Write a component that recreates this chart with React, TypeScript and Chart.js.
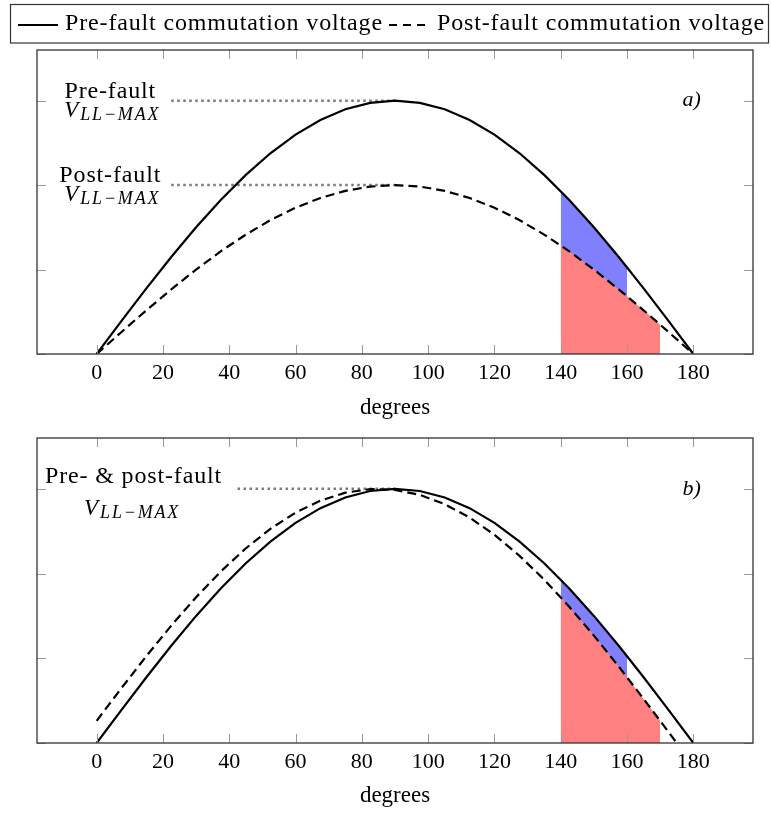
import React, { useEffect, useRef } from 'react';
import { Chart, registerables } from 'chart.js';

Chart.register(...registerables);

// ---------- data ----------
const seriesNames = ['Pre-fault commutation voltage', 'Post-fault commutation voltage'];
const xAxisTitle = 'degrees';
const xTickValues = [0, 20, 40, 60, 80, 100, 120, 140, 160, 180];
const yTickValues = [0, 0.3333, 0.6667, 1];
const xRange = [-18, 198];
const yRange = [0, 1.2];

const sampleDegrees = [0, 7.5, 15, 22.5, 30, 37.5, 45, 52.5, 60, 67.5, 75, 82.5, 90, 97.5, 105, 112.5, 120, 127.5, 135, 142.5, 150, 157.5, 165, 172.5, 180];
const preFault = [0, 0.1305, 0.2588, 0.3827, 0.5, 0.6088, 0.7071, 0.7934, 0.866, 0.9239, 0.9659, 0.9914, 1, 0.9914, 0.9659, 0.9239, 0.866, 0.7934, 0.7071, 0.6088, 0.5, 0.3827, 0.2588, 0.1305, 0];
const postFaultA = [0, 0.087, 0.1725, 0.2551, 0.3333, 0.4059, 0.4714, 0.5289, 0.5774, 0.6159, 0.644, 0.6609, 0.6667, 0.6609, 0.644, 0.6159, 0.5774, 0.5289, 0.4714, 0.4059, 0.3333, 0.2551, 0.1725, 0.087, 0];
const postFaultBDegrees = [0, 7.5, 15, 22.5, 30, 37.5, 45, 52.5, 60, 67.5, 75, 82.5, 90, 97.5, 105, 112.5, 120, 127.5, 135, 142.5, 150, 157.5, 165, 172.5, 175];
const postFaultB = [0.0872, 0.2164, 0.342, 0.4617, 0.5736, 0.6756, 0.766, 0.8434, 0.9063, 0.9537, 0.9848, 0.999, 0.9962, 0.9763, 0.9397, 0.887, 0.8192, 0.7373, 0.6428, 0.5373, 0.4226, 0.3007, 0.1736, 0.0436, 0];

const redDegrees = [140, 145, 150, 155, 160, 165, 170];
const redA = [0.4285, 0.3824, 0.3333, 0.2817, 0.228, 0.1725, 0.1158];
const redB = [0.5736, 0.5, 0.4226, 0.342, 0.2588, 0.1736, 0.0872];
const blueDegrees = [140, 145, 150, 155, 160];
const blueTop = [0.6428, 0.5736, 0.5, 0.4226, 0.342];

const noteEnd = 90;
const notesA = [
  { title: 'Pre-fault', y: 1, from: 22.5 },
  { title: 'Post-fault', y: 0.6667, from: 22.5 },
];
const notesB = [{ title: 'Pre- & post-fault', y: 1, from: 42.5 }];
const vllMain = 'V';
const vllSub = 'LL\u2212MAX';
const tagA = 'a)';
const tagB = 'b)';
const tagX = 179.5;

// ---------- styling ----------
const FONT = '"Liberation Serif", "Times New Roman", serif';
const TEXT = '#000';
const BODY_FONT = `24px ${FONT}`;
const BODY_SPACING = '0.85px';
const W = 771;

function lineData(xs: number[], ys: number[]) {
  return xs.map((x, i) => ({ x, y: ys[i] }));
}

type Note = { title: string; y: number; from: number };
type Panel = {
  post: { x: number; y: number }[];
  red: { x: number; y: number }[];
  notes: Note[];
  tag: string;
  padTop: number;
  axisHeight: number;
  height: number;
  top: number;
  legend: boolean;
  textLayout: { titleX: number; titleDy: number; vX: number; vDy: number };
};

function drawVll(ctx: CanvasRenderingContext2D, cx: number, baseline: number) {
  ctx.font = `italic 23px ${FONT}`;
  (ctx as any).letterSpacing = '0px';
  const wV = ctx.measureText(vllMain).width;
  ctx.font = `italic 18px ${FONT}`;
  (ctx as any).letterSpacing = '1.8px';
  const wS = ctx.measureText(vllSub).width;
  const total = wV + 2 + wS;
  const x0 = cx - total / 2;
  ctx.textAlign = 'left';
  ctx.textBaseline = 'alphabetic';
  ctx.font = `italic 23px ${FONT}`;
  (ctx as any).letterSpacing = '0px';
  ctx.fillText(vllMain, x0, baseline);
  ctx.font = `italic 18px ${FONT}`;
  (ctx as any).letterSpacing = '1.8px';
  ctx.fillText(vllSub, x0 + wV + 2, baseline + 3);
  (ctx as any).letterSpacing = '0px';
}

const framePlugin = {
  id: 'frameTicks',
  afterDatasetsDraw(chart: any) {
    const { ctx, chartArea: a, scales } = chart;
    ctx.save();
    ctx.strokeStyle = '#9a9a9a';
    ctx.lineWidth = 1;
    ctx.beginPath();
    for (const v of xTickValues) {
      const px = Math.round(scales.x.getPixelForValue(v)) + 0.5;
      ctx.moveTo(px, a.bottom);
      ctx.lineTo(px, a.bottom - 9);
      ctx.moveTo(px, a.top);
      ctx.lineTo(px, a.top + 9);
    }
    for (const v of yTickValues) {
      const py = Math.round(scales.y.getPixelForValue(v)) + 0.5;
      ctx.moveTo(a.left, py);
      ctx.lineTo(a.left + 9, py);
      ctx.moveTo(a.right, py);
      ctx.lineTo(a.right - 9, py);
    }
    ctx.stroke();
    ctx.strokeStyle = '#333';
    ctx.lineWidth = 1.3;
    ctx.strokeRect(a.left, a.top, a.right - a.left, a.bottom - a.top);
    ctx.restore();
  },
};

function makeNotesPlugin(p: Panel) {
  return {
    id: 'notes',
    afterDraw(chart: any) {
      const { ctx, scales } = chart;
      ctx.save();
      ctx.fillStyle = TEXT;
      for (const n of p.notes) {
        const sx = scales.x.getPixelForValue(n.from);
        const ly = scales.y.getPixelForValue(n.y);
        ctx.font = BODY_FONT;
        (ctx as any).letterSpacing = BODY_SPACING;
        ctx.textAlign = 'center';
        ctx.textBaseline = 'alphabetic';
        ctx.fillText(n.title, sx + p.textLayout.titleX, ly + p.textLayout.titleDy);
        drawVll(ctx, sx + p.textLayout.vX, ly + p.textLayout.vDy);
      }
      ctx.font = `italic 22px ${FONT}`;
      (ctx as any).letterSpacing = '0px';
      ctx.textAlign = 'center';
      ctx.textBaseline = 'middle';
      ctx.fillText(p.tag, scales.x.getPixelForValue(tagX), scales.y.getPixelForValue(1));
      ctx.restore();
    },
  };
}

const legendPlugin = {
  id: 'boxLegend',
  afterDraw(chart: any) {
    const { ctx } = chart;
    ctx.save();
    ctx.strokeStyle = '#333';
    ctx.lineWidth = 1.2;
    ctx.strokeRect(10.5, 4.5, 758, 38.5);
    ctx.strokeStyle = '#000';
    ctx.lineWidth = 2.2;
    ctx.beginPath();
    ctx.moveTo(18, 25);
    ctx.lineTo(58, 25);
    ctx.stroke();
    ctx.setLineDash([8, 6]);
    ctx.beginPath();
    ctx.moveTo(389, 25);
    ctx.lineTo(425, 25);
    ctx.stroke();
    ctx.setLineDash([]);
    ctx.fillStyle = TEXT;
    ctx.font = BODY_FONT;
    (ctx as any).letterSpacing = BODY_SPACING;
    ctx.textAlign = 'left';
    ctx.textBaseline = 'alphabetic';
    ctx.fillText(seriesNames[0], 65, 30);
    ctx.fillText(seriesNames[1], 437, 30);
    (ctx as any).letterSpacing = '0px';
    ctx.restore();
  },
};

function buildConfig(p: Panel): any {
  const datasets: any[] = [
    {
      label: seriesNames[0],
      data: lineData(sampleDegrees, preFault),
      borderColor: '#000',
      borderWidth: 2.2,
      pointRadius: 0,
      fill: false,
      tension: 0,
    },
    {
      label: seriesNames[1],
      data: p.post,
      borderColor: '#000',
      borderWidth: 2.2,
      borderDash: [9, 5],
      pointRadius: 0,
      fill: false,
      tension: 0,
    },
    ...p.notes.map((n) => ({
      label: 'note',
      data: [
        { x: n.from, y: n.y },
        { x: noteEnd, y: n.y },
      ],
      borderColor: '#7a7a7a',
      borderWidth: 2.5,
      borderDash: [2.5, 3.5],
      pointRadius: 0,
      fill: false,
    })),
    {
      label: 'red',
      data: p.red,
      borderColor: 'rgba(0,0,0,0)',
      borderWidth: 1,
      backgroundColor: '#ff8080',
      fill: 'origin',
      pointRadius: 0,
    },
    {
      label: 'blue',
      data: lineData(blueDegrees, blueTop),
      borderColor: 'rgba(0,0,0,0)',
      borderWidth: 1,
      backgroundColor: '#8080ff',
      fill: 'origin',
      pointRadius: 0,
    },
  ];
  const plugins: any[] = [framePlugin, makeNotesPlugin(p)];
  if (p.legend) plugins.push(legendPlugin);
  return {
    type: 'line',
    data: { datasets },
    options: {
      animation: false,
      responsive: false,
      devicePixelRatio: 1,
      events: [],
      layout: { padding: { left: 37, right: 18, top: p.padTop, bottom: 0 } },
      plugins: { legend: { display: false }, tooltip: { enabled: false } },
      scales: {
        x: {
          type: 'linear',
          min: xRange[0],
          max: xRange[1],
          afterBuildTicks: (s: any) => {
            s.ticks = xTickValues.map((v) => ({ value: v }));
          },
          afterFit: (s: any) => {
            s.height = p.axisHeight;
          },
          grid: { display: false, drawTicks: false },
          border: { display: false },
          ticks: {
            font: { family: FONT, size: 22 },
            color: TEXT,
            padding: 6,
            maxRotation: 0,
            autoSkip: false,
            callback: (v: any) => String(v),
          },
          title: {
            display: true,
            text: xAxisTitle,
            font: { family: FONT, size: 23 },
            color: TEXT,
            padding: { top: 0, bottom: 4 },
          },
        },
        y: { type: 'linear', min: yRange[0], max: yRange[1], display: false },
      },
    },
    plugins,
  };
}

const panelA: Panel = {
  post: lineData(sampleDegrees, postFaultA),
  red: lineData(redDegrees, redA),
  notes: notesA,
  tag: tagA,
  padTop: 50,
  axisHeight: 72,
  height: 426,
  top: 0,
  legend: true,
  textLayout: { titleX: -61, titleDy: -3, vX: -59, vDy: 16 },
};

const panelB: Panel = {
  post: lineData(postFaultBDegrees, postFaultB),
  red: lineData(redDegrees, redB),
  notes: notesB,
  tag: tagB,
  padTop: 4,
  axisHeight: 71,
  height: 380,
  top: 434,
  legend: false,
  textLayout: { titleX: -104, titleDy: -6, vX: -105.5, vDy: 26 },
};

function PanelChart({ p }: { p: Panel }) {
  const ref = useRef<HTMLCanvasElement>(null);
  useEffect(() => {
    const chart = new Chart(ref.current as HTMLCanvasElement, buildConfig(p));
    return () => chart.destroy();
  }, [p]);
  return (
    <canvas
      ref={ref}
      width={W}
      height={p.height}
      style={{ position: 'absolute', left: 0, top: p.top, width: W, height: p.height, display: 'block' }}
    />
  );
}

export default function App() {
  return (
    <div style={{ position: 'absolute', left: 0, top: 0, width: W, height: 814, overflow: 'hidden', background: '#fff' }}>
      <PanelChart p={panelA} />
      <PanelChart p={panelB} />
    </div>
  );
}
